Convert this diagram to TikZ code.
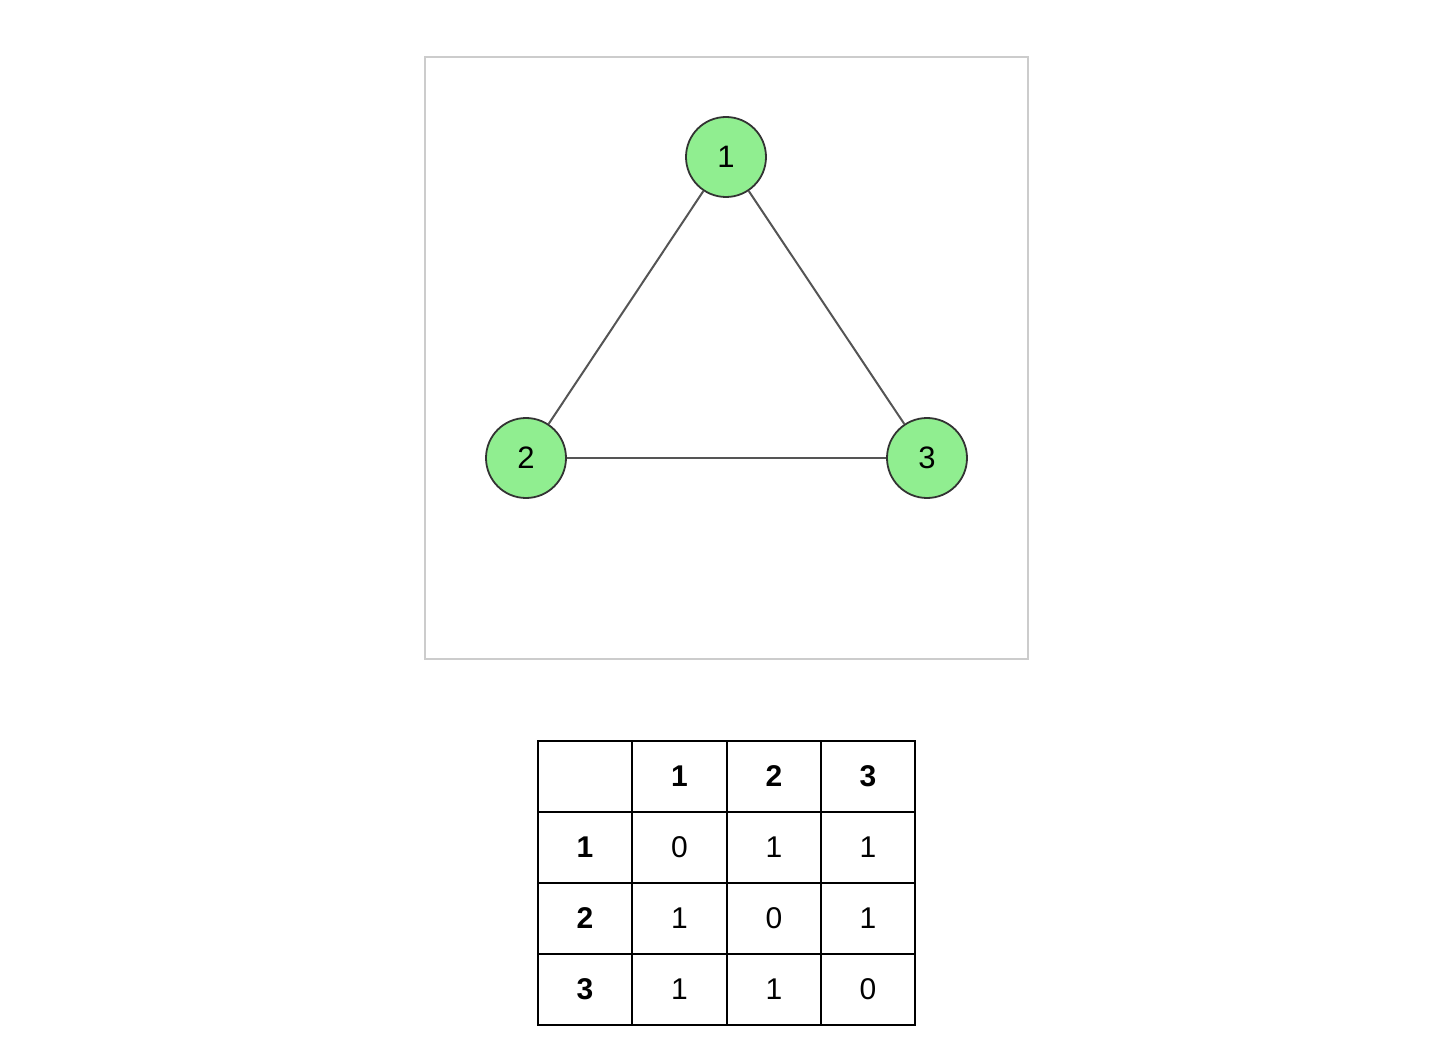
\documentclass[tikz,border=0pt]{standalone}
\usepackage{fontspec}
\setmainfont{Liberation Sans}
\definecolor{vgreen}{HTML}{90EE90}
\definecolor{vline}{HTML}{333333}
\definecolor{eline}{HTML}{555555}
\definecolor{frame}{HTML}{CCCCCC}
\begin{document}
\begin{tikzpicture}[x=1pt,y=-1pt]
\useasboundingbox (0,0) rectangle (1430,1064);
\draw[frame, line width=1.5pt] (425,57) rectangle (1028,659);
\node[circle, minimum size=80pt, inner sep=0pt, fill=vgreen, draw=vline, line width=1.8pt, font=\fontsize{31}{33}\selectfont] (v1) at (726,157){1};
\node[circle, minimum size=80pt, inner sep=0pt, fill=vgreen, draw=vline, line width=1.8pt, font=\fontsize{31}{33}\selectfont] (v2) at (526,458){2};
\node[circle, minimum size=80pt, inner sep=0pt, fill=vgreen, draw=vline, line width=1.8pt, font=\fontsize{31}{33}\selectfont] (v3) at (927,458){3};
\draw[eline, line width=2pt](v1) -- (v2);
\draw[eline, line width=2pt](v1) -- (v3);
\draw[eline, line width=2pt](v2) -- (v3);

\tikzset{cell/.style={draw, line width=2pt, minimum width=94.25pt, minimum height=71pt, inner sep=0pt, font=\fontsize{30}{32}\selectfont}}
\node[cell] (c00) at (585,776.5){};
\node[cell, font=\fontsize{30}{32}\selectfont\bfseries] (c01) at (679.5,776.5){1};
\node[cell, font=\fontsize{30}{32}\selectfont\bfseries] (c02) at (774,776.5){2};
\node[cell, font=\fontsize{30}{32}\selectfont\bfseries] (c03) at (868,776.5){3};
\node[cell, font=\fontsize{30}{32}\selectfont\bfseries] (c10) at (585,847.5){1};
\node[cell] (c11) at (679.5,847.5){0};
\node[cell] (c12) at (774,847.5){1};
\node[cell] (c13) at (868,847.5){1};
\node[cell, font=\fontsize{30}{32}\selectfont\bfseries] (c20) at (585,918.5){2};
\node[cell] (c21) at (679.5,918.5){1};
\node[cell] (c22) at (774,918.5){0};
\node[cell] (c23) at (868,918.5){1};
\node[cell, font=\fontsize{30}{32}\selectfont\bfseries] (c30) at (585,989.5){3};
\node[cell] (c31) at (679.5,989.5){1};
\node[cell] (c32) at (774,989.5){1};
\node[cell] (c33) at (868,989.5){0};

\end{tikzpicture}
\end{document}
